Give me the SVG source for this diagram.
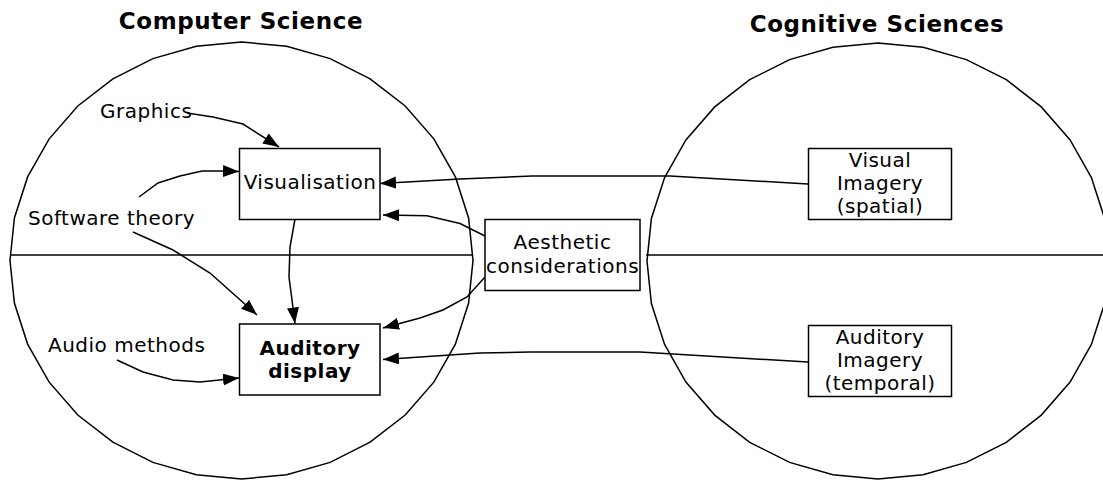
<svg xmlns="http://www.w3.org/2000/svg" width="1103" height="481" viewBox="0 0 1103 481">
<defs>
<style>
.sh{fill:none;stroke:#000;stroke-width:1.5}
.bx{fill:#fff;stroke:#000;stroke-width:1.5}
.t{font-family:"DejaVu Sans","Verdana",sans-serif;font-size:20px;letter-spacing:0.5px;fill:#000}
.c{text-anchor:middle}
.b{font-weight:bold}
.ti{font-family:"DejaVu Sans","Verdana",sans-serif;font-size:23px;font-weight:bold;letter-spacing:0.6px;text-anchor:middle;fill:#000}
.cn{fill:none;stroke:#000;stroke-width:1.5;marker-end:url(#ah)}
</style>
<marker id="ah" markerUnits="userSpaceOnUse" markerWidth="17" markerHeight="13" refX="16" refY="6" orient="auto">
<path d="M0,0 L16,6 L0,12 z" fill="#000"/>
</marker>
</defs>
<g id="background">
<polygon class="sh" points="473,260.5 468.6,217.9 455.4,176.9 434,139.1 405.2,106 370.1,78.8 330.1,58.6 286.7,46.2 241.5,42 196.3,46.2 152.9,58.6 112.9,78.8 77.8,106 49,139.1 27.6,176.9 14.4,217.9 10,260.5 14.4,303.1 27.6,344.1 49,381.9 77.8,415 112.9,442.2 152.9,462.4 196.3,474.8 241.5,479 286.7,474.8 330.1,462.4 370.1,442.2 405.2,415 434,381.9 455.4,344.1 468.6,303.1"/>
<polygon class="sh" points="1109,261 1104.6,218.5 1091.4,177.6 1070.1,139.9 1041.3,106.9 1006.3,79.7 966.4,59.6 923.1,47.2 878,43 832.9,47.2 789.6,59.6 749.7,79.7 714.7,106.9 685.9,139.9 664.6,177.6 651.4,218.5 647,261 651.4,303.5 664.6,344.4 685.9,382.1 714.7,415.1 749.7,442.3 789.6,462.4 832.9,474.8 878,479 923.1,474.8 966.4,462.4 1006.3,442.3 1041.3,415.1 1070.1,382.1 1091.4,344.4 1104.6,303.5"/>
<line class="sh" x1="11" y1="255" x2="473" y2="255"/>
<line class="sh" x1="646" y1="255" x2="1103" y2="255"/>
<text class="ti" x="241" y="29">Computer Science</text>
<text class="ti" x="877" y="31.5">Cognitive Sciences</text>
<text class="t" x="100" y="118">Graphics</text>
<text class="t" x="28" y="225">Software theory</text>
<text class="t" x="48" y="352">Audio methods</text>
</g>
<g id="connectors">
<polyline class="cn" points="187,113 213,117 243,124 279,147"/>
<polyline class="cn" points="139,197 158,183 180,176 202,171 220,171 239,171.5"/>
<polyline class="cn" points="133,232 173,250 210,273 257,315"/>
<polyline class="cn" points="295,219 290,247 289,277 292,300 295,323.5"/>
<polyline class="cn" points="117,360 143,372 173,380 200,382 239,378"/>
<polyline class="cn" points="808,184 670,176 532,176 460,179 380,183.5"/>
<polyline class="cn" points="485,236 460,223.5 427,215.7 383,215"/>
<polyline class="cn" points="485,277 467,297 443,310 420,318 383,328"/>
<polyline class="cn" points="808,362 640,352 530,352 480,353 383,359.5"/>
</g>
<g id="visualisation">
<rect class="bx" x="239.5" y="148.5" width="140.5" height="71"/>
<text class="t c" x="310" y="189">Visualisation</text>
</g>
<g id="auditory-display">
<rect class="bx" x="239.5" y="324" width="140.5" height="71"/>
<text class="t c b" x="310" y="355">Auditory</text>
<text class="t c b" x="310" y="378">display</text>
</g>
<g id="aesthetic">
<rect class="bx" x="485" y="219.5" width="155" height="71"/>
<text class="t c" x="562.5" y="249">Aesthetic</text>
<text class="t c" x="562.5" y="273">considerations</text>
</g>
<g id="visual-imagery">
<rect class="bx" x="808.5" y="148.5" width="143" height="71"/>
<text class="t c" x="880" y="167">Visual</text>
<text class="t c" x="880" y="190">Imagery</text>
<text class="t c" x="880" y="213">(spatial)</text>
</g>
<g id="auditory-imagery">
<rect class="bx" x="808.5" y="325.5" width="143" height="71"/>
<text class="t c" x="880" y="343.5">Auditory</text>
<text class="t c" x="880" y="366.5">Imagery</text>
<text class="t c" x="880" y="390">(temporal)</text>
</g>
</svg>
